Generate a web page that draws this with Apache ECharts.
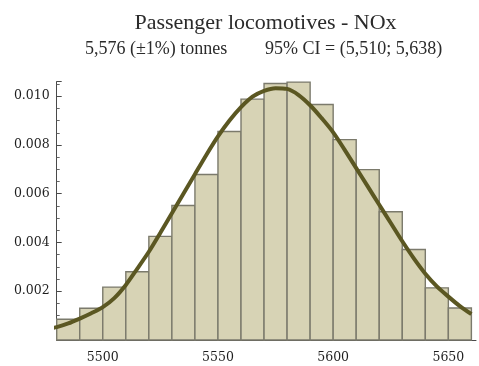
<!DOCTYPE html>
<html><head><meta charset="utf-8">
<script src="https://cdn.jsdelivr.net/npm/echarts@6/dist/echarts.min.js"></script>
<style>html,body{margin:0;padding:0;background:#fff}#c{width:479px;height:366px}</style>
</head><body><div id="c"></div>
<script>
// Histogram bins (left edge) and densities
const binStarts = [5480,5490,5500,5510,5520,5530,5540,5550,5560,5570,5580,5590,5600,5610,5620,5630,5640,5650];
const binWidth = 10;
const binDensity = [0.00085,0.00130,0.00217,0.00280,0.00425,0.00552,0.00679,0.00855,0.00988,0.01052,0.01058,0.00966,0.00822,0.00699,0.00526,0.00371,0.00214,0.00131];
// Fitted curve
const curveX = [5475,5480,5485,5490,5495,5500,5505,5510,5515,5520,5525,5530,5535,5540,5545,5550,5555,5560,5565,5570,5575,5580,5585,5590,5595,5600,5605,5610,5615,5620,5625,5630,5635,5640,5645,5650,5655,5660];
const curveY = [0.00043,0.00053,0.00068,0.00088,0.00110,0.00135,0.00172,0.00226,0.00293,0.00362,0.00440,0.00520,0.00600,0.00680,0.00760,0.00835,0.00900,0.00955,0.00998,0.01022,0.01033,0.01030,0.01005,0.00963,0.00910,0.00852,0.00780,0.00705,0.00630,0.00555,0.00480,0.00405,0.00335,0.00272,0.00220,0.00178,0.00139,0.00106];
const xTickLabels = [5500,5550,5600,5650];
const yTickLabels = [0.002,0.004,0.006,0.008,0.010];
const titleText = 'Passenger locomotives - NOx';
const subLeft = '5,576 (±1%) tonnes';
const subRight = '95% CI = (5,510; 5,638)';

const chart = echarts.init(document.getElementById('c'), null, {renderer:'canvas'});
const serif = 'Liberation Serif';
const tickFont = 'DejaVu Serif';
chart.setOption({
  animation:false,
  backgroundColor:'#ffffff',
  graphic:[
    {type:'text', x:265.5, y:23, style:{text:titleText, fontFamily:serif, fontSize:22, fill:'#2b2b2b', align:'center', verticalAlign:'middle'}},
    {type:'text', x:85, y:49, style:{text:subLeft, fontFamily:serif, fontSize:18, fill:'#2b2b2b', align:'left', verticalAlign:'middle'}},
    {type:'text', x:265, y:49, style:{text:subRight, fontFamily:serif, fontSize:18, fill:'#2b2b2b', align:'left', verticalAlign:'middle'}}
  ],
  grid:{left:56.7, right:2, top:81.6, bottom:26, containLabel:false},
  xAxis:{
    type:'value', min:5480, max:5662, interval:10,
    axisLine:{show:true, lineStyle:{color:'#4a4a4a', width:1}},
    axisTick:{show:false},
    splitLine:{show:false},
    axisLabel:{margin:11, fontFamily:tickFont, fontSize:12.5, color:'#1e1e1e',
      formatter:function(v){ return xTickLabels.indexOf(Math.round(v))>=0 && Math.abs(v-Math.round(v))<1e-6 ? String(Math.round(v)) : ''; }}
  },
  yAxis:{
    type:'value', min:0, max:0.0106, interval:0.002,
    axisLine:{show:true, lineStyle:{color:'#4a4a4a', width:1}},
    axisTick:{show:true, inside:true, length:5, lineStyle:{color:'#4a4a4a'}},
    minorTick:{show:true, splitNumber:4, length:3, lineStyle:{color:'#666'}},
    splitLine:{show:false},
    axisLabel:{margin:7, fontFamily:tickFont, fontSize:12.5, color:'#1e1e1e',
      formatter:function(v){
        for (const t of yTickLabels){ if (Math.abs(v-t)<1e-9) return t.toFixed(3); }
        return '';
      }}
  },
  series:[
    {
      type:'custom',
      data: binStarts.map((s,i)=>[s, s+binWidth, binDensity[i]]),
      encode:{x:[0,1], y:2},
      renderItem:function(params, api){
        const p0 = api.coord([api.value(0), 0]);
        const p1 = api.coord([api.value(1), api.value(2)]);
        return {type:'rect', shape:{x:p0[0], y:p1[1], width:p1[0]-p0[0], height:p0[1]-p1[1]},
          style:{fill:'#d7d3b5', stroke:'#7b7a6c', lineWidth:1.4}};
      },
      z:2
    },
    {
      type:'line', data: curveX.map((x,i)=>[x, curveY[i]]),
      smooth:0.3, showSymbol:false, clip:false,
      lineStyle:{color:'#5b5722', width:4},
      z:3
    }
  ]
});
</script></body></html>
